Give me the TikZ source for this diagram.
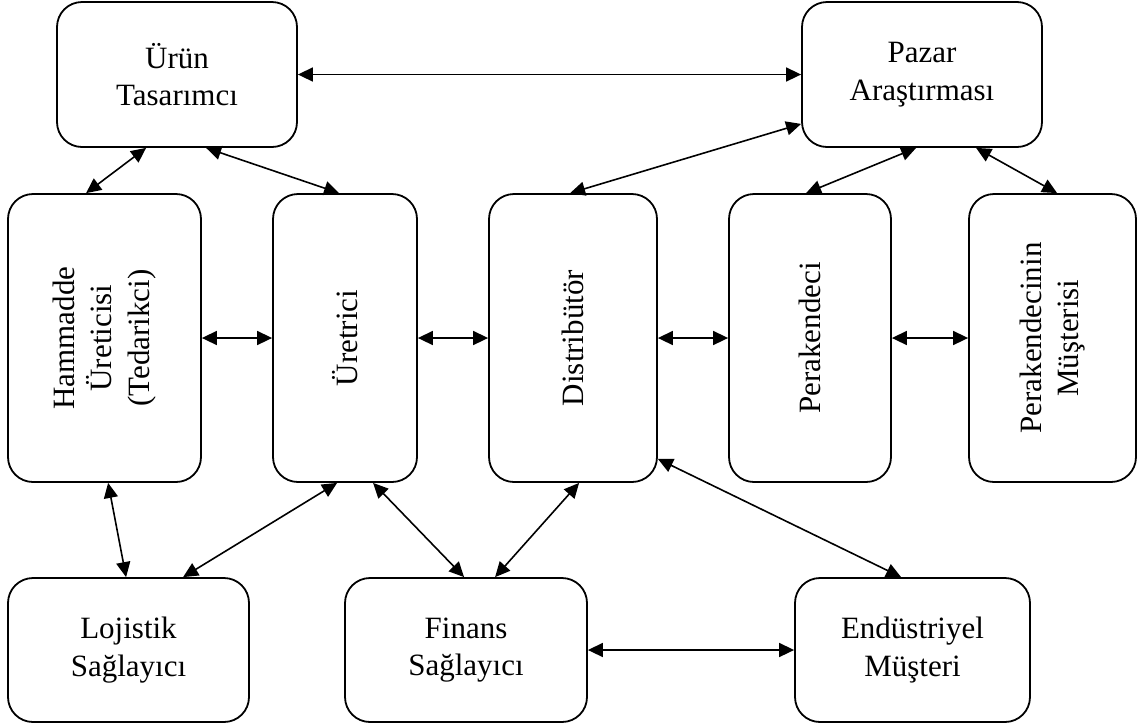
\documentclass[tikz,border=0pt]{standalone}
\usepackage{fontspec}
\setmainfont{Liberation Serif}
\usetikzlibrary{arrows.meta}
\begin{document}
\begin{tikzpicture}[x=1pt,y=-1pt,
  box/.style={draw, line width=1.8pt, rounded corners=25pt, inner sep=0pt},
  lbl/.style={align=center, font=\fontsize{31pt}{37.5pt}\selectfont, inner sep=0pt},
  link/.style={line width=1.6pt, {Triangle[length=15pt,width=14pt]}-{Triangle[length=15pt,width=14pt]}}
]
\useasboundingbox (0,0) rectangle (1139,724);

% top row
\node[box, minimum width=240pt, minimum height=145pt] (ur) at (177,74.5) {};
\node[lbl] (urT) at (ur) {Ürün\\Tasarımcı};
\node[box, minimum width=240pt, minimum height=145pt] (pa) at (922,74.5) {};
\node[lbl] (paT) at (pa) {Pazar\\Araştırması};

% middle row (text runs upwards)
\node[box, minimum width=193pt, minimum height=288pt] (ham) at (104.5,338) {};
\node[lbl, rotate=90] (hamT) at (ham) {Hammadde\\Üreticisi\\(Tedarikci)};
\node[box, minimum width=144pt, minimum height=288pt] (ure) at (345,338) {};
\node[lbl, rotate=90] (ureT) at (ure) {Üretrici};
\node[box, minimum width=168pt, minimum height=288pt] (dis) at (573,338) {};
\node[lbl, rotate=90] (disT) at (dis) {Distribütör};
\node[box, minimum width=162pt, minimum height=288pt] (per) at (810,338) {};
\node[lbl, rotate=90] (perT) at (per) {Perakendeci};
\node[box, minimum width=167pt, minimum height=288pt] (pm) at (1052.5,338) {};
\node[lbl, rotate=90] (pmT) at (pm) {Perakendecinin\\Müşterisi};

% bottom row
\node[box, minimum width=241pt, minimum height=144pt] (loj) at (128.5,650) {};
\node[lbl] (lojT) at (loj) {Lojistik\\Sağlayıcı};
\node[box, minimum width=242pt, minimum height=144pt] (fin) at (466,650) {};
\node[lbl] (finT) at (fin) {Finans\\Sağlayıcı};
\node[box, minimum width=235pt, minimum height=144pt] (end) at (912.5,650) {};
\node[lbl] (endT) at (end) {Endüstriyel\\Müşteri};

% connectors
\draw[link] (ur.east) -- (pa.west);
\draw[link] ([xshift=90pt]ur.south west) -- ([xshift=79pt]ham.north west);
\draw[link] ([xshift=150pt]ur.south west) -- ([xshift=67pt]ure.north west);
\draw[link] ([yshift=24pt]pa.south west) -- ([xshift=82pt]dis.north west);
\draw[link] ([xshift=115pt]pa.south west) -- ([xshift=78pt]per.north west);
\draw[link] ([xshift=175pt]pa.south west) -- ([xshift=89pt]pm.north west);

\draw[link] (ham.east) -- (ure.west);
\draw[link] (ure.east) -- (dis.west);
\draw[link] (dis.east) -- (per.west);
\draw[link] (per.east) -- (pm.west);

\draw[link] ([xshift=101pt]ham.south west) -- ([xshift=119pt]loj.north west);
\draw[link] ([xshift=65pt]ure.south west) -- ([xshift=176pt]loj.north west);
\draw[link] ([xshift=101pt]ure.south west) -- ([xshift=120pt]fin.north west);
\draw[link] ([xshift=91pt]dis.south west) -- ([xshift=151pt]fin.north west);
\draw[link] ([yshift=24pt]dis.south east) -- ([xshift=107pt]end.north west);
\draw[link] (fin.east) -- (end.west);
\end{tikzpicture}
\end{document}
